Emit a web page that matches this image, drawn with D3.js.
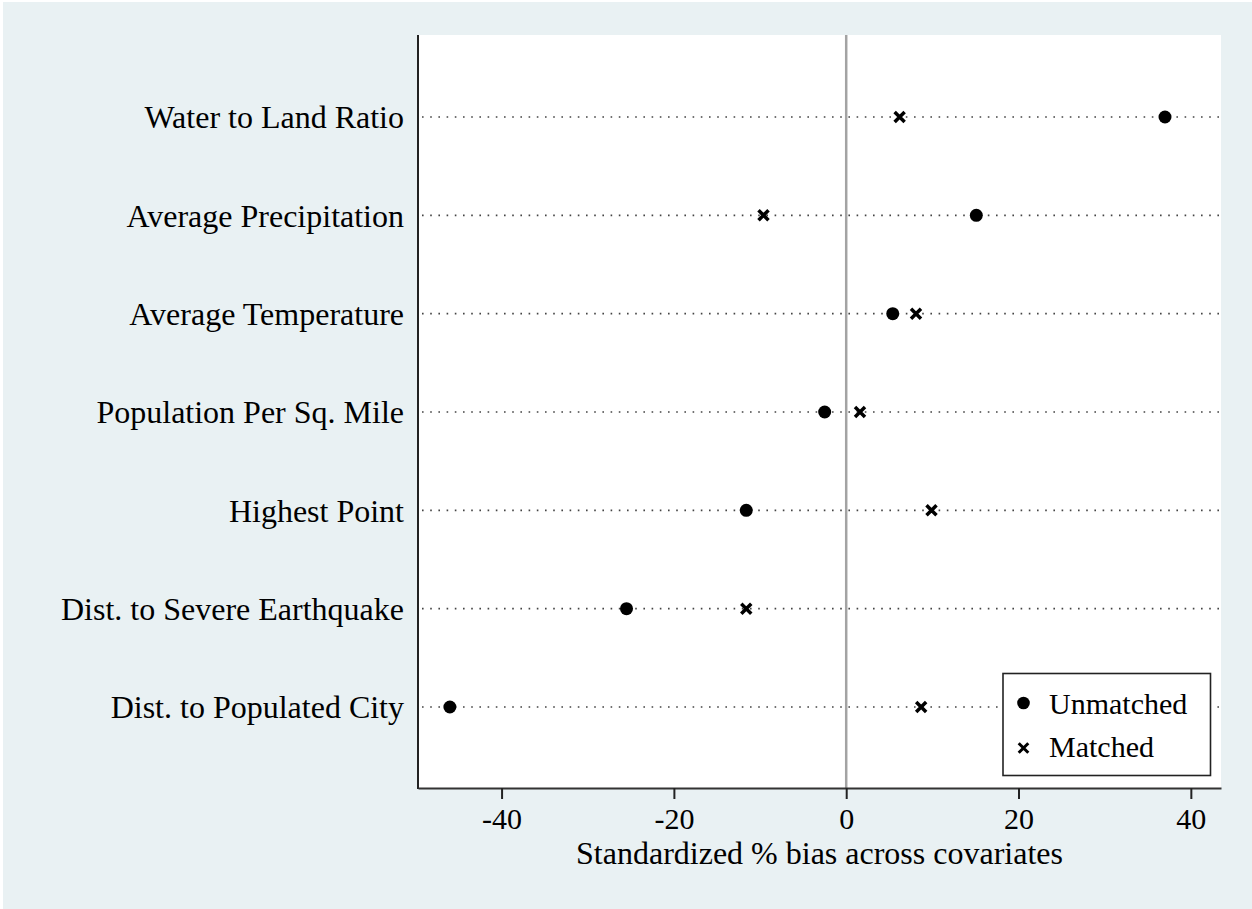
<!DOCTYPE html>
<html>
<head>
<meta charset="utf-8">
<script src="https://cdn.jsdelivr.net/npm/d3@7"></script>
<style>
  body { margin: 0; background: #fff; }
  svg { display: block; }
  text { font-family: "Liberation Serif", "Times New Roman", serif; fill: #000; }
</style>
</head>
<body>
<svg id="chart"></svg>
<script>
const categories = [
  "Water to Land Ratio",
  "Average Precipitation",
  "Average Temperature",
  "Population Per Sq. Mile",
  "Highest Point",
  "Dist. to Severe Earthquake",
  "Dist. to Populated City"
];
const unmatched = [37.0, 15.1, 5.4, -2.5, -11.6, -25.5, -46.0];
const matched = [6.2, -9.6, 8.1, 1.6, 9.9, -11.6, 8.7];
const xTicks = [-40, -20, 0, 20, 40];
const legendLabels = ["Unmatched", "Matched"];

const width = 1252;
const height = 909;
const plot = { left: 418, right: 1221, top: 35, bottom: 788 };

const svg = d3.select("#chart")
  .attr("width", width)
  .attr("height", height);

// outer background
svg.append("rect")
  .attr("x", 3).attr("y", 2)
  .attr("width", width - 3).attr("height", height - 2)
  .attr("fill", "#e9f1f3");

// plot region
svg.append("rect")
  .attr("x", plot.left).attr("y", plot.top)
  .attr("width", plot.right - plot.left).attr("height", plot.bottom - plot.top)
  .attr("fill", "#fff");

const x = d3.scaleLinear()
  .domain([-49.7, 43.5])
  .range([plot.left, plot.right]);

const y = d3.scalePoint()
  .domain(categories)
  .range([117, 707]);

// dotted guide lines
svg.append("g")
  .selectAll("line")
  .data(categories)
  .join("line")
  .attr("x1", plot.left + 4)
  .attr("x2", plot.right)
  .attr("y1", d => y(d))
  .attr("y2", d => y(d))
  .attr("stroke", "#444")
  .attr("stroke-width", 1.6)
  .attr("stroke-dasharray", "1.6,6.6");

// zero line
svg.append("line")
  .attr("x1", x(0)).attr("x2", x(0))
  .attr("y1", plot.top).attr("y2", plot.bottom)
  .attr("stroke", "#a3a3a3")
  .attr("stroke-width", 2.5);

// left axis line
svg.append("line")
  .attr("x1", plot.left).attr("x2", plot.left)
  .attr("y1", plot.top).attr("y2", plot.bottom + 1)
  .attr("stroke", "#222")
  .attr("stroke-width", 2);

// y labels
const yAxis = svg.append("g")
  .attr("transform", `translate(${plot.left},0)`)
  .call(d3.axisLeft(y).tickSize(0).tickPadding(14));
yAxis.select(".domain").remove();
yAxis.selectAll("text")
  .style("font-size", "32px")
  .attr("dy", "0.34em")
  .attr("fill", "#000");

// x axis
const xAxis = svg.append("g")
  .attr("transform", `translate(0,${plot.bottom})`)
  .call(d3.axisBottom(x)
    .tickValues(xTicks)
    .tickFormat(d => String(d))
    .tickSize(11)
    .tickSizeOuter(0)
    .tickPadding(8.5));
xAxis.select(".domain")
  .attr("stroke", "#333")
  .attr("stroke-width", 2);
xAxis.selectAll(".tick line")
  .attr("stroke", "#222")
  .attr("stroke-width", 2);
xAxis.selectAll("text")
  .style("font-size", "30px")
  .attr("fill", "#000");

svg.append("text")
  .attr("x", (plot.left + plot.right) / 2)
  .attr("y", 864)
  .attr("text-anchor", "middle")
  .style("font-size", "32px")
  .text("Standardized % bias across covariates");

// markers
function cross(g, cx, cy, s, w) {
  g.append("path")
    .attr("d", `M${cx - s},${cy - s}L${cx + s},${cy + s}M${cx - s},${cy + s}L${cx + s},${cy - s}`)
    .attr("stroke", "#000")
    .attr("stroke-width", w)
    .attr("fill", "none");
}

const marks = svg.append("g");
marks.selectAll("circle")
  .data(categories)
  .join("circle")
  .attr("cx", (d, i) => x(unmatched[i]))
  .attr("cy", d => y(d))
  .attr("r", 6.5)
  .attr("fill", "#000");

categories.forEach((c, i) => cross(marks, x(matched[i]), y(c), 5, 3.5));

// legend
const lg = svg.append("g");
lg.append("rect")
  .attr("x", 1003).attr("y", 673.5)
  .attr("width", 207.5).attr("height", 102)
  .attr("fill", "#fff")
  .attr("stroke", "#222")
  .attr("stroke-width", 1.6);
lg.append("circle")
  .attr("cx", 1023.5).attr("cy", 703)
  .attr("r", 6.3)
  .attr("fill", "#000");
cross(lg, 1023.5, 748, 4.8, 3);
lg.selectAll("text.leg")
  .data(legendLabels)
  .join("text")
  .attr("class", "leg")
  .attr("x", 1049)
  .attr("y", (d, i) => 713.5 + i * 43.5)
  .style("font-size", "30px")
  .text(d => d);
</script>
</body>
</html>
